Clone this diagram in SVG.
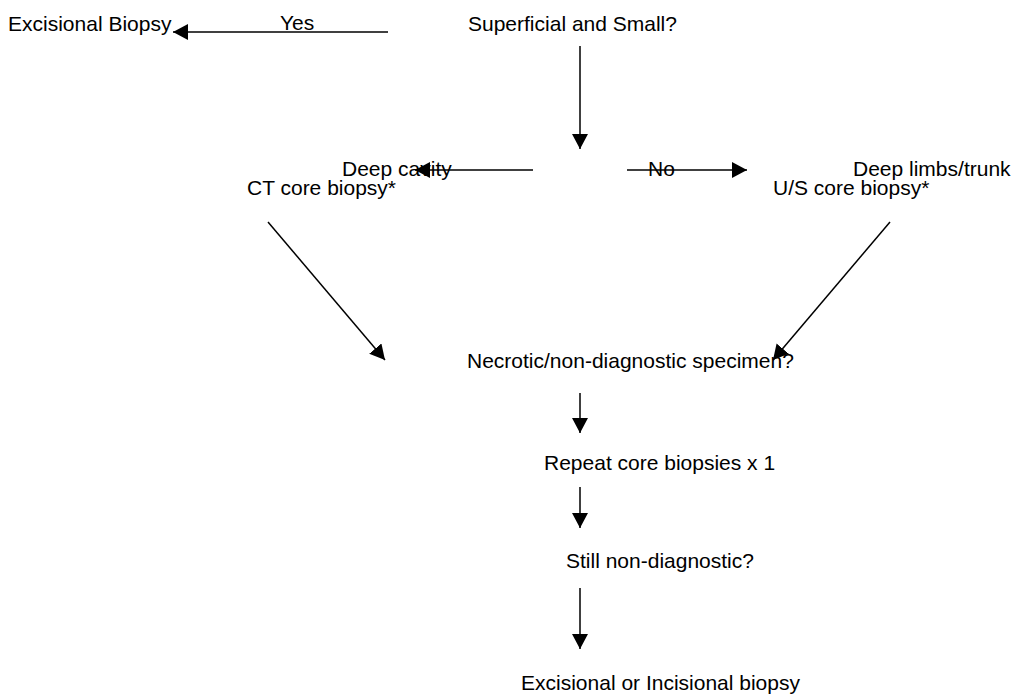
<svg xmlns="http://www.w3.org/2000/svg" width="1013" height="695" viewBox="0 0 1013 695">
<style>
text { font-family: "Liberation Sans", Arial, sans-serif; font-size: 21px; fill: #000; }
.c { stroke: #000; stroke-width: 1.5; fill: none; marker-end: url(#ah); }
</style>
<defs>
<marker id="ah" viewBox="0 0 15 16" refX="15" refY="8" markerWidth="15" markerHeight="16" markerUnits="userSpaceOnUse" orient="auto">
<path d="M0,0 L15,8 L0,16 z" fill="#000"/>
</marker>
</defs>
<rect width="1013" height="695" fill="#fff"/>
<g id="n-excisional"><text x="8" y="31">Excisional Biopsy</text></g>
<g id="n-superficial"><text x="468" y="31">Superficial and Small?</text></g>
<g id="n-cavity"><text x="342" y="176">Deep cavity</text><text x="247" y="195">CT core biopsy*</text></g>
<g id="n-limbs"><text x="853" y="176">Deep limbs/trunk</text><text x="773" y="195">U/S core biopsy*</text></g>
<g id="n-necrotic"><text x="467" y="368">Necrotic/non-diagnostic specimen?</text></g>
<g id="n-repeat"><text x="544" y="470">Repeat core biopsies x 1</text></g>
<g id="n-still"><text x="566" y="568">Still non-diagnostic?</text></g>
<g id="n-final"><text x="521" y="690">Excisional or Incisional biopsy</text></g>
<g id="connectors">
<line class="c" x1="388" y1="32" x2="173" y2="32"/>
<text x="280" y="30">Yes</text>
<line class="c" x1="580" y1="46" x2="580" y2="149"/>
<line class="c" x1="533" y1="170" x2="415" y2="170"/>
<line class="c" x1="627" y1="170" x2="747" y2="170"/>
<text x="648" y="176">No</text>
<line class="c" x1="268" y1="222" x2="385" y2="360"/>
<line class="c" x1="890" y1="222" x2="773" y2="360"/>
<line class="c" x1="580" y1="393" x2="580" y2="433"/>
<line class="c" x1="580" y1="487" x2="580" y2="528"/>
<line class="c" x1="580" y1="588" x2="580" y2="649"/>
</g>
</svg>
